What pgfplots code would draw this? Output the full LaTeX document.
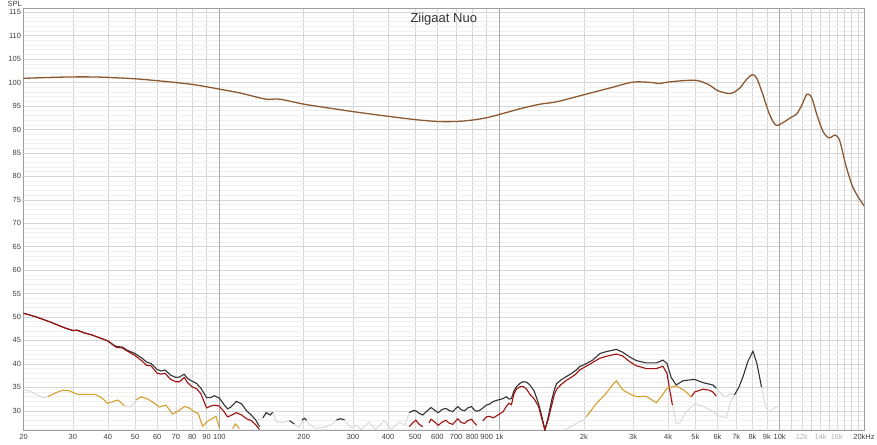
\documentclass[border=0pt]{standalone}
\usepackage{pgfplots}
\pgfplotsset{compat=1.18}
\usepackage{fontspec}
\setmainfont{Liberation Sans}

\definecolor{fr}{HTML}{8C5A32}
\definecolor{thd}{HTML}{333333}
\definecolor{htwo}{HTML}{A01010}
\definecolor{hthree}{HTML}{D4A030}
\definecolor{noise}{HTML}{DADADA}

\begin{document}
\begin{tikzpicture}
\begin{axis}[
  at={(0,0)}, anchor=south west,
  scale only axis, width=840.5pt, height=422pt,
  xmode=log, xmin=20, xmax=20000, ymin=25.9, ymax=115.9,
  axis line style={draw=black!38},
  tick style={draw=none},
  /pgf/number format/assume math mode=true,
  ticklabel style={font=\fontsize{7.5}{8}\selectfont, text=black!75},
  xtick={20,30,40,50,60,70,80,90,100,200,300,400,500,600,700,800,900,1000,2000,3000,4000,5000,6000,7000,8000,9000,10000,12000,14000,16000,20000},
  xticklabels={20,30,40,50,60,70,80,90,100,200,300,400,500,600,700,800,900,1k,2k,3k,4k,5k,6k,7k,8k,9k,10k,\textcolor{black!30}{12k},\textcolor{black!30}{14k},\textcolor{black!30}{16k},20kHz},
  xticklabel style={yshift=-1pt},
  extra x ticks={100,1000,10000,11000,13000,15000,17000,18000,19000},
  extra x tick labels={},
  extra x tick style={grid=major},
  ytick={30,35,...,115},
  minor ytick={26,27,...,115},
  yticklabel style={xshift=1pt},
  grid=both,
  major grid style={draw=black!16, line width=0.5pt},
  minor grid style={draw=black!6, line width=0.5pt},
]
% darker decade lines
\addplot[black!33, line width=0.6pt, forget plot] coordinates {(100,25.9)(100,115.9)};
\addplot[black!33, line width=0.6pt, forget plot] coordinates {(1000,25.9)(1000,115.9)};
\addplot[black!33, line width=0.6pt, forget plot] coordinates {(10000,25.9)(10000,115.9)};

% noise floor / below-threshold parts
\addplot[noise, line width=1pt] coordinates {(20,34.5)(21,34.2)(22,33.6)(23.4,32.8)(24.4,33.0)};
\addplot[noise, line width=1pt] coordinates {(45.8,31.1)(47,30.9)(48.4,30.8)(50.4,32.3)};
\addplot[noise, line width=1pt] coordinates {(137,28.0)(143,28.5)(147,29.6)(152,29.1)(155,29.7)(160,27.6)(170,27.5)(178,27.9)(185,27.2)(192,26.4)(201,28.4)(210,27.0)(220,26.3)(235,26.4)(253,27.2)(265,28.3)(280,28.0)(295,26.4)(311,26.9)(320,26.0)(343,27.6)(360,26.0)(388,27.9)(410,26.0)(439,27.6)(460,27.0)(476,29.6)};
\addplot[noise, line width=1pt] coordinates {(1700,25.9)(1800,26.6)(1900,27.5)(2000,28.0)(2040,28.7)};
\addplot[noise, line width=1pt] coordinates {(4100,33.5)(4200,29.5)(4270,27.2)(4400,27.5)(4640,29.8)(4970,31.5)(5320,31.0)(5780,29.8)(6110,28.8)(6450,28.5)(6640,31.5)(6900,33.4)};
\addplot[noise, line width=1pt] coordinates {(5940,34.8)(6110,34.0)(6300,33.2)(6450,33.0)(6650,33.6)(6900,33.4)};
\addplot[noise, line width=1pt] coordinates {(8610,35.1)(8850,31.5)(9090,29.8)(9400,30.2)(9700,30.8)(10000,30.9)};

% THD
\addplot[thd, line width=1.1pt] coordinates {(20,50.8)(22,50.1)(25,48.9)(28,47.7)(30,47.1)(31,47.2)(33,46.6)(35,46.2)(38,45.4)(40,44.9)(42,44.0)(43,43.7)(45,43.6)(47,42.9)(50,42.2)(53,41.2)(55,40.4)(57,40.1)(60,38.8)(62,38.5)(64,38.7)(67,37.6)(70,37.1)(72,37.2)(75,37.8)(77,36.9)(80,36.3)(83,35.8)(86,34.8)(90,32.8)(93,32.8)(96,33.2)(100,32.7)(104,31.3)(107,30.4)(110,30.8)(115,32.0)(120,31.5)(125,30.0)(130,29.1)(135,28.0)(139,26.6)};
\addplot[thd, line width=1.1pt] coordinates {(143,28.5)(147,29.6)(152,29.1)(155,29.7)};
\addplot[thd, line width=1.1pt] coordinates {(178,27.9)(185,27.2)};
\addplot[thd, line width=1.1pt] coordinates {(197,28.0)(201,28.4)(205,28.0)};
\addplot[thd, line width=1.1pt] coordinates {(262,28.0)(270,28.3)(280,28.1)};
\addplot[thd, line width=1.1pt] coordinates {(476,29.6)(490,30.0)(503,30.0)(515,29.5)(532,29.1)(550,29.9)(570,30.7)(590,30.0)(604,29.6)(625,30.3)(644,30.5)(660,30.1)(681,29.8)(695,30.4)(710,30.9)(730,30.2)(751,30.0)(770,30.6)(795,30.9)(812,30.2)(829,29.9)(850,30.1)(872,30.6)(897,31.2)(920,31.4)(951,32.0)(1000,32.4)(1030,32.6)(1057,33.0)(1080,32.5)(1103,32.6)(1125,34.2)(1148,35.1)(1180,35.8)(1214,36.2)(1250,36.1)(1284,35.5)(1330,34.2)(1377,31.6)(1420,28.5)(1453,25.9)(1490,28.5)(1536,32.3)(1570,34.5)(1600,35.8)(1660,36.6)(1733,37.3)(1800,37.9)(1880,38.7)(1930,39.4)(2000,39.8)(2150,40.8)(2280,42.2)(2400,42.6)(2610,43.1)(2750,42.5)(2910,41.5)(3080,40.7)(3340,40.2)(3630,40.2)(3830,40.8)(3960,40.1)(4100,37.1)(4270,35.5)(4520,36.4)(4970,36.7)(5320,36.0)(5780,35.5)(5940,34.8)};
\addplot[thd, line width=1.1pt] coordinates {(6900,33.4)(7150,35.0)(7400,37.3)(7700,40.5)(8030,42.7)(8300,40.0)(8610,35.1)};

% H2
\addplot[htwo, line width=1.1pt] coordinates {(20,50.8)(22,50.1)(25,48.9)(28,47.7)(30,47.1)(31,47.2)(33,46.6)(35,46.2)(38,45.4)(40,44.9)(42,43.9)(43,43.5)(45,43.4)(47,42.7)(50,41.8)(53,40.6)(55,39.7)(57,39.6)(60,38.0)(62,37.8)(64,38.0)(67,36.7)(70,36.2)(72,36.2)(75,37.1)(77,36.0)(80,35.1)(83,34.7)(86,33.6)(90,30.6)(93,31.0)(96,31.2)(100,31.0)(104,29.8)(107,28.7)(110,29.0)(115,29.6)(120,29.1)(125,28.3)(130,27.9)(135,27.0)(139,26.0)};
\addplot[htwo, line width=1.1pt] coordinates {(476,26.6)(490,27.4)(503,28.0)(515,27.2)(532,26.6)};
\addplot[htwo, line width=1.1pt] coordinates {(560,27.4)(570,28.2)(590,27.5)(604,26.9)(625,27.6)(644,28.0)(660,27.4)(681,27.1)(695,27.7)(710,28.3)(730,27.5)(751,27.3)(770,27.9)(795,28.2)(812,27.5)(829,26.9)};
\addplot[htwo, line width=1.1pt] coordinates {(872,27.8)(897,28.7)(920,28.8)(951,28.5)(1000,29.3)(1030,29.8)(1057,30.9)(1080,31.6)(1103,31.3)(1125,33.5)(1148,34.6)(1180,35.1)(1214,35.2)(1250,34.6)(1284,33.5)(1330,32.5)(1377,31.0)(1420,28.0)(1450,25.9)(1490,28.0)(1536,31.2)(1570,33.5)(1600,34.6)(1660,35.6)(1733,36.5)(1800,37.1)(1880,37.9)(1930,38.7)(2000,39.2)(2150,40.3)(2280,41.2)(2400,41.6)(2610,42.1)(2750,41.7)(2910,40.5)(3080,39.6)(3340,39.0)(3630,39.0)(3830,39.5)(3960,38.0)(4050,34.5)(4140,31.2)};
\addplot[htwo, line width=1.1pt] coordinates {(4840,33.0)(4970,34.0)(5320,34.6)(5600,34.4)(5780,34.0)(5940,33.1)};

% H3
\addplot[hthree, line width=1.1pt] coordinates {(24.4,33.0)(26,33.8)(27.6,34.4)(29,34.3)(31.2,33.5)(36,33.5)(38,32.8)(39.9,31.6)(43.4,32.3)(45.8,31.1)};
\addplot[hthree, line width=1.1pt] coordinates {(50.4,32.3)(52.6,33.0)(55.5,32.5)(58,31.8)(61.1,30.8)(64.5,31.2)(68.1,29.3)(71.5,30.0)(75.1,30.9)(78,30.6)(81.4,29.8)(84,29.4)(87.2,26.7)(90.8,27.8)(97.3,28.8)(98.8,27.5)(100,26.4)};
\addplot[hthree, line width=1.1pt] coordinates {(111.6,26.2)(114,27.2)(117.9,26.2)};
\addplot[hthree, line width=1.1pt] coordinates {(2040,28.7)(2150,30.5)(2220,31.6)(2400,33.7)(2530,35.5)(2610,36.4)(2750,34.5)(2910,33.6)(3080,33.0)(3340,33.1)(3630,31.7)(3830,33.5)(3960,34.8)(4270,35.3)(4520,34.5)(4640,34.0)(4840,32.9)};

% frequency response
\addplot[fr, line width=1.3pt, smooth, tension=0.5] coordinates {(20,100.9)(25,101.1)(30,101.2)(35,101.2)(40,101.1)(50,100.8)(60,100.4)(70,100.0)(80,99.6)(90,99.1)(100,98.6)(120,97.7)(140,96.7)(150,96.4)(160,96.5)(170,96.3)(200,95.4)(250,94.5)(300,93.8)(400,92.8)(500,92.1)(600,91.7)(700,91.7)(800,92.0)(900,92.5)(1000,93.2)(1200,94.5)(1400,95.4)(1600,95.9)(2000,97.4)(2500,98.9)(3000,100.1)(3500,100.0)(3700,99.8)(4000,100.1)(4500,100.4)(5000,100.5)(5200,100.3)(5600,99.5)(6000,98.3)(6500,97.7)(6800,97.8)(7200,98.8)(7600,100.6)(8000,101.7)(8300,100.8)(8700,97.5)(9200,93.2)(9700,90.9)(10300,91.5)(11000,92.6)(11500,93.3)(12000,95.2)(12500,97.5)(13000,96.8)(13600,93.0)(14300,89.5)(15000,88.2)(15800,88.8)(16400,87.5)(17200,82.5)(18300,77.5)(20000,73.7)};

\node[font=\fontsize{13}{14}\selectfont, text=black!80, anchor=base] at (axis description cs:0.5,1) [yshift=-14.5pt] {Ziigaat Nuo};
\end{axis}
\node[font=\fontsize{7.5}{8}\selectfont, text=black!75, anchor=north west, inner sep=0pt] at (-16pt,429pt) {SPL};
\pgfresetboundingbox
\path[use as bounding box] (-23.5pt,-14pt) rectangle (853.5pt,430pt);
\end{tikzpicture}
\end{document}
